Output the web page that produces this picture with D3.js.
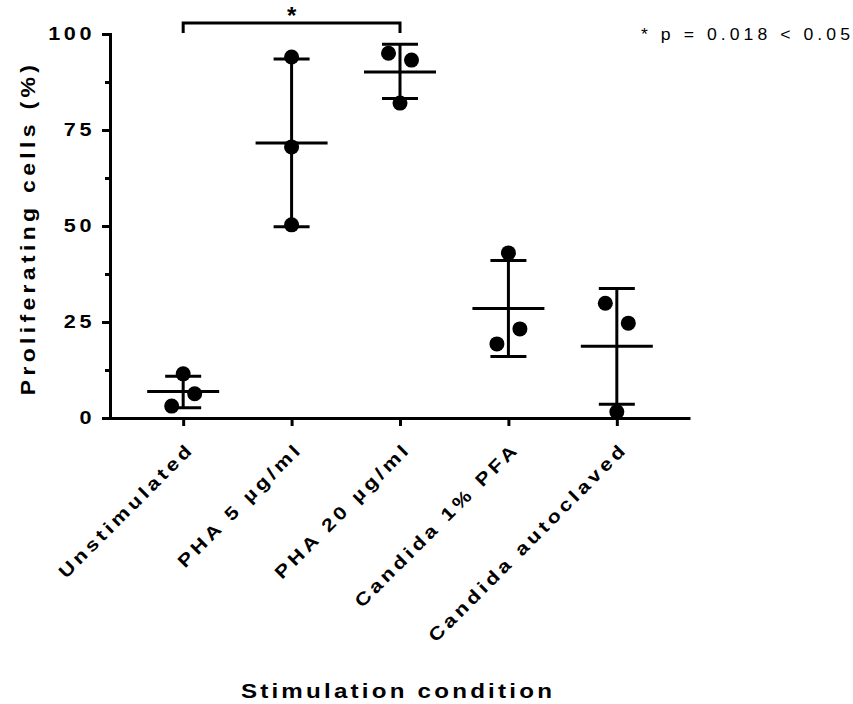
<!DOCTYPE html>
<html>
<head>
<meta charset="utf-8">
<script src="https://cdn.jsdelivr.net/npm/d3@7"></script>
<style>
  body { margin: 0; background: #fff; }
  svg text { font-family: "Liberation Sans", Arial, sans-serif; fill: #000; }
</style>
</head>
<body>
<svg id="viz" width="853" height="704"></svg>
<script>
// Data
const categories = ["Unstimulated", "PHA 5 µg/ml", "PHA 20 µg/ml", "Candida 1% PFA", "Candida autoclaved"]
const points = [
    [11.5, 6.3, 3.1],
    [94.0, 70.6, 50.3],
    [95.0, 93.2, 82.0],
    [43.0, 23.2, 19.3],
    [29.9, 24.7, 1.6]
]
// which slot each dot sits in beside the centre line (-1 left, 0 centre, 1 right)
const jitter = [
    [0, 1, -1],
    [0, 0, 0],
    [-1, 1, 0],
    [0, 1, -1],
    [-1, 1, 0]
]
const means = [6.9, 71.6, 90.1, 28.5, 18.7]
const sdLow = [2.7, 49.8, 83.2, 16.0, 3.6]
const sdHigh = [10.9, 93.5, 97.3, 41.0, 33.7]
const yTicks = [0, 25, 50, 75, 100]
const yMinor = [12.5, 37.5, 62.5, 87.5]
const sigPair = [0, 2]

// Layout
const margin = { top: 34, left: 110, right: 163, bottom: 286 }
const width = 853, height = 704
const slot = 11.5
const stretch = 1.2   // the text in the original is drawn wide

const svg = d3.select("#viz")

const x = d3.scalePoint()
    .domain(categories)
    .range([margin.left, width - margin.right])
    .padding(0.675)

const y = d3.scaleLinear()
    .domain([0, 100])
    .range([height - margin.bottom, margin.top])

// Axes
const yAxis = svg.append("g")
    .attr("transform", `translate(${margin.left},0)`)
    .call(d3.axisLeft(y).tickValues(yTicks).tickSize(8).tickSizeOuter(0))
svg.append("g")
    .attr("transform", `translate(${margin.left},0)`)
    .call(d3.axisLeft(y).tickValues(yMinor).tickSize(5).tickFormat(""))
    .select(".domain").remove()

svg.append("g")
    .attr("transform", `translate(0,${y(0)})`)
    .call(d3.axisBottom(x).tickSize(8).tickSizeOuter(0).tickFormat(""))

svg.selectAll(".domain, .tick line")
    .attr("stroke", "#000")
    .attr("stroke-width", 3)
yAxis.select(".domain").attr("stroke-linecap", "square")
yAxis.selectAll(".tick text")
    .attr("x", 0)
    .attr("transform", `translate(-15,0) scale(${stretch},1)`)
    .attr("font-size", 18)
    .attr("font-weight", "bold")
    .attr("letter-spacing", 3)
    .attr("fill", "#000")

// x tick labels, rotated
svg.append("g").selectAll("text")
    .data(categories)
    .join("text")
    .attr("transform", d => `translate(${x(d) + 12},${y(0) + 32}) rotate(-45) scale(${stretch},1)`)
    .attr("text-anchor", "end")
    .attr("font-size", 18)
    .attr("font-weight", "bold")
    .attr("letter-spacing", 3.2)
    .text(d => d)

// Error bars and means
const groups = svg.append("g").selectAll("g")
    .data(categories)
    .join("g")

groups.append("line")
    .attr("x1", d => x(d)).attr("x2", d => x(d))
    .attr("y1", (d, i) => y(sdLow[i])).attr("y2", (d, i) => y(sdHigh[i]))
    .attr("stroke", "#000").attr("stroke-width", 3)
groups.selectAll(".cap")
    .data((d, i) => [{ c: d, v: sdLow[i] }, { c: d, v: sdHigh[i] }])
    .join("line")
    .attr("class", "cap")
    .attr("x1", d => x(d.c) - 18).attr("x2", d => x(d.c) + 18)
    .attr("y1", d => y(d.v)).attr("y2", d => y(d.v))
    .attr("stroke", "#000").attr("stroke-width", 3)
groups.append("line")
    .attr("x1", d => x(d) - 36).attr("x2", d => x(d) + 36)
    .attr("y1", (d, i) => y(means[i])).attr("y2", (d, i) => y(means[i]))
    .attr("stroke", "#000").attr("stroke-width", 3)

// Dots
groups.selectAll("circle")
    .data((d, i) => points[i].map((v, j) => ({ c: d, v: v, s: jitter[i][j] })))
    .join("circle")
    .attr("cx", d => x(d.c) + d.s * slot)
    .attr("cy", d => y(d.v))
    .attr("r", 7.5)
    .attr("fill", "#000")

// Significance bracket
const bx1 = x(categories[sigPair[0]]), bx2 = x(categories[sigPair[1]])
svg.append("path")
    .attr("d", `M${bx1},33 V23 H${bx2} V33`)
    .attr("fill", "none")
    .attr("stroke", "#000")
    .attr("stroke-width", 3)
svg.append("text")
    .attr("x", (bx1 + bx2) / 2)
    .attr("y", 24)
    .attr("text-anchor", "middle")
    .attr("font-size", 24)
    .attr("font-weight", "bold")
    .text("*")

svg.append("text")
    .attr("transform", `translate(854,40) scale(1.1,1)`)
    .attr("text-anchor", "end")
    .attr("font-size", 16)
    .attr("letter-spacing", 3.7)
    .text("* p = 0.018 < 0.05")

// Axis titles
svg.append("text")
    .attr("transform", `translate(35,${(y(0) + y(100)) / 2 + 2}) rotate(-90) scale(1.15,1)`)
    .attr("text-anchor", "middle")
    .attr("font-size", 20)
    .attr("font-weight", "bold")
    .attr("letter-spacing", 3.75)
    .text("Proliferating cells (%)")

svg.append("text")
    .attr("transform", `translate(398,698) scale(1.15,1)`)
    .attr("text-anchor", "middle")
    .attr("font-size", 21)
    .attr("font-weight", "bold")
    .attr("letter-spacing", 2.8)
    .text("Stimulation condition")
</script>
</body>
</html>
